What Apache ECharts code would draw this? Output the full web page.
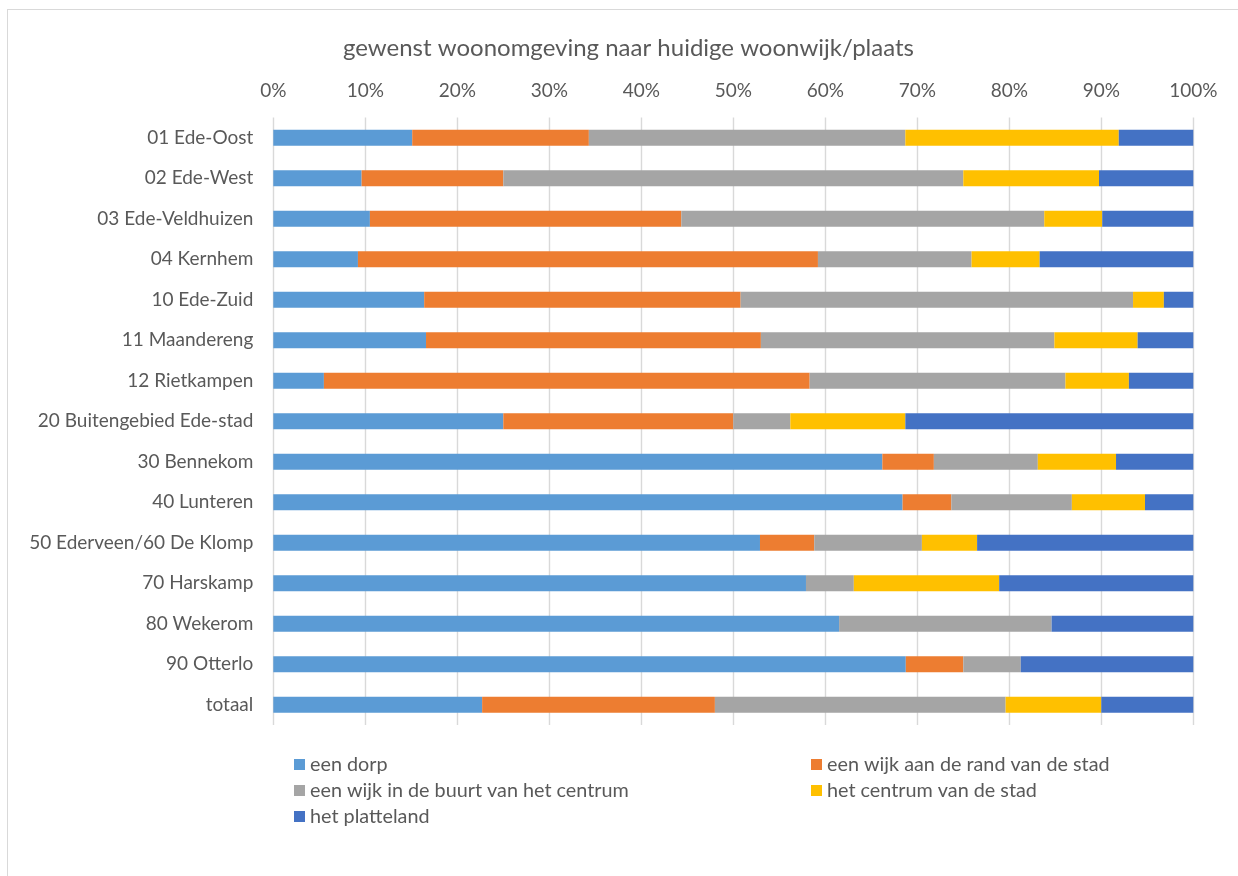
<!DOCTYPE html>
<html>
<head>
<meta charset="utf-8">
<script src="https://cdn.jsdelivr.net/npm/echarts@6/dist/echarts.min.js"></script>
<style>
html, body { margin: 0; padding: 0; background: #fff; overflow: hidden; }
#frame { position: absolute; left: 7px; top: 9px; width: 1400px; height: 1000px; border-left: 1px solid #d9d9d9; border-top: 1px solid #d9d9d9; }
#chart { position: absolute; left: 0; top: 0; width: 1238px; height: 876px; }
</style>
</head>
<body>
<div id="frame"></div>
<div id="chart"></div>
<script>
const titleText = 'gewenst woonomgeving naar huidige woonwijk/plaats';
const categories = [
  '01 Ede-Oost', '02 Ede-West', '03 Ede-Veldhuizen', '04 Kernhem', '10 Ede-Zuid',
  '11 Maandereng', '12 Rietkampen', '20 Buitengebied Ede-stad', '30 Bennekom', '40 Lunteren',
  '50 Ederveen/60 De Klomp', '70 Harskamp', '80 Wekerom', '90 Otterlo', 'totaal'
];
const seriesNames = [
  'een dorp', 'een wijk aan de rand van de stad', 'een wijk in de buurt van het centrum',
  'het centrum van de stad', 'het platteland'
];
const eenDorp     = [15.1, 9.6, 10.5, 9.2, 16.4, 16.6, 5.5, 25.0, 66.2, 68.4, 52.9, 57.9, 61.5, 68.75, 22.7];
const wijkRand    = [19.2, 15.4, 33.85, 50.0, 34.4, 36.4, 52.8, 25.0, 5.6, 5.3, 5.9, 0, 0, 6.25, 25.3];
const wijkCentrum = [34.4, 50.0, 39.45, 16.7, 42.65, 31.9, 27.8, 6.2, 11.3, 13.1, 11.7, 5.2, 23.1, 6.25, 31.6];
const centrumStad = [23.2, 14.75, 6.3, 7.4, 3.35, 9.05, 6.9, 12.5, 8.5, 7.95, 6.0, 15.8, 0, 0, 10.4];
const platteland  = [8.1, 10.25, 9.9, 16.7, 3.2, 6.05, 7.0, 31.3, 8.4, 5.25, 23.5, 21.1, 15.4, 18.75, 10.0];
const tickValues  = [0, 10, 20, 30, 40, 50, 60, 70, 80, 90, 100];

const colors = ['#5B9BD5', '#ED7D31', '#A5A5A5', '#FFC000', '#4472C4'];
const allData = [eenDorp, wijkRand, wijkCentrum, centrumStad, platteland];
const FONT = 'Lato';
const TXT = '#595959';

const chart = echarts.init(document.getElementById('chart'), null, { renderer: 'canvas' });
chart.setOption({
  animation: false,
  backgroundColor: 'transparent',
  color: colors,
  textStyle: { fontFamily: FONT, color: TXT },
  title: {
    text: titleText,
    left: 338, top: 31,
    textStyle: { fontFamily: FONT, fontSize: 24, fontWeight: 'normal', color: TXT }
  },
  grid: { left: 273.3, right: 44.7, top: 117.5, bottom: 151, containLabel: false },
  xAxis: {
    type: 'value', position: 'top',
    min: tickValues[0], max: tickValues[tickValues.length - 1], interval: 10,
    axisLine: { show: false }, axisTick: { show: false },
    axisLabel: { formatter: '{value}%', fontFamily: FONT, fontSize: 19, color: TXT, margin: 17 },
    splitLine: { show: true, lineStyle: { color: '#D9D9D9', width: 1.4 } }
  },
  yAxis: {
    type: 'category', data: categories, inverse: true,
    axisLine: { show: false }, axisTick: { show: false },
    axisLabel: { fontFamily: FONT, fontSize: 19, color: TXT, margin: 20 }
  },
  legend: [
    {
      data: [seriesNames[0], seriesNames[2], seriesNames[4]],
      orient: 'vertical', left: 289, top: 749,
      itemWidth: 11, itemHeight: 11, itemGap: 5, icon: 'rect',
      textStyle: { fontFamily: FONT, fontSize: 19.8, color: TXT, lineHeight: 21 }
    },
    {
      data: [seriesNames[1], seriesNames[3]],
      orient: 'vertical', left: 806, top: 749,
      itemWidth: 11, itemHeight: 11, itemGap: 5, icon: 'rect',
      textStyle: { fontFamily: FONT, fontSize: 19.8, color: TXT, lineHeight: 21 }
    }
  ],
  series: seriesNames.map((name, i) => ({
    name: name, type: 'bar', stack: 'total', barWidth: 16,
    data: allData[i],
    itemStyle: { color: colors[i] },
    emphasis: { disabled: true }
  }))
});
</script>
</body>
</html>
